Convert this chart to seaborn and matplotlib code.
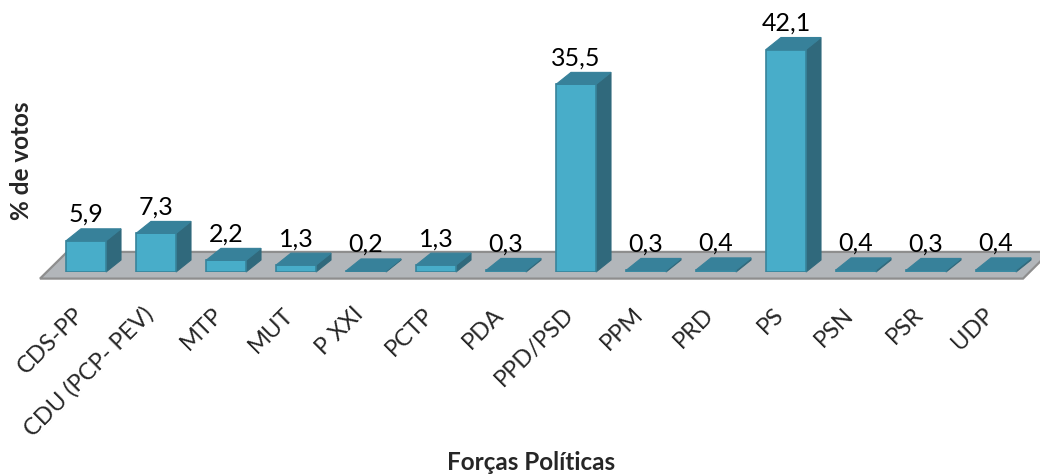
import matplotlib
matplotlib.use('Agg')
import matplotlib.pyplot as plt
from matplotlib.patches import Polygon
from matplotlib.transforms import ScaledTranslation
import pandas as pd
import seaborn as sns

forcas = ['CDS-PP', 'CDU (PCP- PEV)', 'MTP', 'MUT', 'P XXI', 'PCTP', 'PDA', 'PPD/PSD',
          'PPM', 'PRD', 'PS', 'PSN', 'PSR', 'UDP']
votos = [5.9, 7.3, 2.2, 1.3, 0.2, 1.3, 0.3, 35.5, 0.3, 0.4, 42.1, 0.4, 0.3, 0.4]
rotulos = ['5,9', '7,3', '2,2', '1,3', '0,2', '1,3', '0,3', '35,5', '0,3', '0,4', '42,1', '0,4', '0,3', '0,4']

frente = '#48ADC9'
borda = '#38849B'
topo = '#37819A'
lado = '#30697C'

sns.set_style('white')
plt.rcParams['font.family'] = ['Lato', 'DejaVu Sans']

W, H = 1040, 477
fig = plt.figure(figsize=(W / 100, H / 100), dpi=100)
# axes placed so the categories land 70 px apart and zero sits on the floor
ax = fig.add_axes([51 / W, 1 - 273 / H, 980 / W, 243 / H])
ax.patch.set_alpha(0)

df = pd.DataFrame({'forca': forcas, 'votos': votos})
sns.barplot(data=df, x='forca', y='votos', color=frente, saturation=1, width=40 / 70,
            edgecolor=borda, linewidth=1.2, ax=ax, zorder=3)
ax.set_xlim(-0.5, 13.5)
ax.set_ylim(0, 243 / 5.285)

# depth of the fake 3D, in data units
dx = 15 / 70
dy = 12 / 5.285

# grey floor
chao = Polygon([(-0.657, -1.25), (13.386, -1.25), (13.77, 3.8), (-0.27, 3.8)],
               closed=True, facecolor='#B2B6BA', edgecolor='#8E8E8E', linewidth=1.6,
               clip_on=False, zorder=1)
ax.add_patch(chao)

# top and side faces taken from each bar
barras = ax.containers[0]
for b in barras:
    x0 = b.get_x()
    x1 = x0 + b.get_width()
    h = b.get_height()
    ax.add_patch(Polygon([(x0, h), (x1, h), (x1 + dx, h + dy), (x0 + dx, h + dy)],
                         facecolor=topo, edgecolor=topo, linewidth=0.8, clip_on=False, zorder=4))
    ax.add_patch(Polygon([(x1, 0), (x1, h), (x1 + dx, h + dy), (x1 + dx, dy)],
                         facecolor=lado, edgecolor=lado, linewidth=0.8, clip_on=False, zorder=2))

ax.bar_label(barras, labels=rotulos, padding=11.5, fontsize=18, color='black', zorder=5)

ax.set_xticks(range(len(forcas)))
ax.set_xticklabels(forcas, rotation=45, ha='right', va='center', rotation_mode='anchor', fontsize=17)
ax.tick_params(axis='x', length=0, pad=27.5)
# nudge the slanted labels a little to the left
for t in ax.get_xticklabels():
    t.set_transform(t.get_transform() + ScaledTranslation(-6 / 100, 0, fig.dpi_scale_trans))
ax.set_yticks([])
ax.set_xlabel('')
ax.set_ylabel('')
sns.despine(ax=ax, left=True, bottom=True)

fig.text(531 / W, 1 - 463 / H, 'Forças Políticas', fontsize=17.5, fontweight='bold', ha='center', va='center')
fig.text(22 / W, 1 - 161 / H, '% de votos', fontsize=17.5, fontweight='bold', rotation=90, ha='center', va='center')

fig.savefig('out.png', dpi=100)
